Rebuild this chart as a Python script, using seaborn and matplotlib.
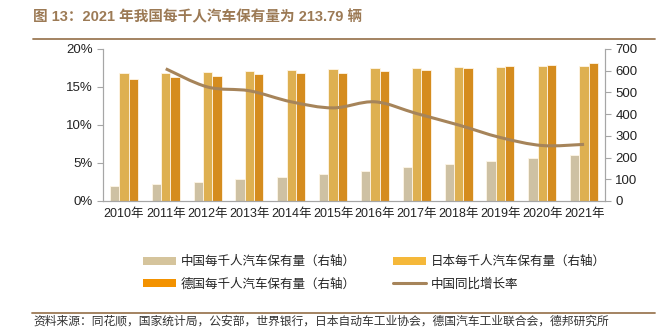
import numpy as np
import pandas as pd
import matplotlib
matplotlib.use("Agg")
import matplotlib.pyplot as plt
from matplotlib.path import Path
from matplotlib.patches import PathPatch, Patch
from matplotlib.lines import Line2D
import matplotlib.ticker as mticker
import seaborn as sns

years = ['2010年', '2011年', '2012年', '2013年', '2014年', '2015年',
         '2016年', '2017年', '2018年', '2019年', '2020年', '2021年']
china = [67.7, 77, 86, 100, 112, 123, 137, 155, 171, 185, 198, 213.79]
japan = [588, 589, 595, 600, 605, 608, 611, 614, 615, 618, 621, 623]
germany = [562, 571, 577, 583, 588, 591, 597, 605, 612, 620, 628, 634]
growth_years = years[1:]
growth = [17.4, 15.0, 14.5, 13.05, 12.25, 13.05, 11.5, 10.0, 8.35, 7.3, 7.45]

s_china = '中国每千人汽车保有量（右轴）'
s_japan = '日本每千人汽车保有量（右轴）'
s_germany = '德国每千人汽车保有量（右轴）'
s_growth = '中国同比增长率'

c_china = '#D5C49C'
c_japan = '#F5B83A'
c_germany = '#F39200'
c_line = '#A6845A'
c_title = '#9C7A55'
c_axis = '#A6A6A6'

sns.set_theme(style='white')
plt.rcParams['font.family'] = ['Liberation Sans', 'Noto Sans CJK SC', 'DejaVu Sans']

df = pd.DataFrame({
    'year': years * 3,
    'value': china + japan + germany,
    'series': [s_china] * 12 + [s_japan] * 12 + [s_germany] * 12,
})

fig = plt.figure(figsize=(6.59, 3.29), dpi=100)
ax = fig.add_axes([103 / 659, 1 - 201 / 329, (605 - 103) / 659, (201 - 49) / 329])
ax2 = ax.twinx()

sns.barplot(data=df, x='year', y='value', hue='series', ax=ax2,
            palette=[c_china, c_japan, c_germany], width=0.67, gap=0,
            edgecolor='#FFF6E6', linewidth=0.6, legend=False)
ax2.set_ylim(0, 700)
ax2.set_yticks(np.arange(0, 701, 100))
ax2.set_xlim(-0.5, 11.5)
ax2.set_ylabel('')
ax2.set_xlabel('')

# smoothed growth line on the left axis
xs = np.array([years.index(y) for y in growth_years], dtype=float)
ys = np.array(growth) / 100.0
pts = np.column_stack([xs, ys])
ext = np.vstack([pts[0], pts, pts[-1]])
verts = [tuple(pts[0])]
codes = [Path.MOVETO]
for i in range(len(pts) - 1):
    p0, p1, p2, p3 = ext[i], ext[i + 1], ext[i + 2], ext[i + 3]
    c1 = p1 + (p2 - p0) / 6.0
    c2 = p2 - (p3 - p1) / 6.0
    verts += [tuple(c1), tuple(c2), tuple(p2)]
    codes += [Path.CURVE4] * 3
ax.add_patch(PathPatch(Path(verts, codes), facecolor='none', edgecolor=c_line,
                       linewidth=2.2, capstyle='butt'))
ax.set_xlim(-0.5, 11.5)
ax.set_ylim(0, 0.20)
ax.set_yticks(np.arange(0, 0.201, 0.05))
ax.yaxis.set_major_formatter(mticker.FuncFormatter(lambda v, p: f'{v*100:.0f}%'))
ax.set_zorder(ax2.get_zorder() + 1)
ax.patch.set_visible(False)

# x ticks: labels at centres, marks at boundaries
ax.set_xticks(range(12))
ax.set_xticklabels(years)
ax.set_xticks(np.arange(-0.5, 12, 1), minor=True)
ax.tick_params(axis='x', which='major', length=0, pad=5, labelsize=9, colors='#222222')
ax.tick_params(axis='x', which='minor', length=4, width=0.8, color=c_axis, direction='out')
ax.tick_params(axis='y', length=4, width=0.8, color=c_axis, labelsize=9.5,
               labelcolor='#222222', direction='out', left=True)
ax2.tick_params(axis='y', length=4, width=0.8, color=c_axis, labelsize=9.5,
                labelcolor='#222222', direction='out', right=True)
ax2.tick_params(axis='x', length=0, labelbottom=False)

for a in (ax, ax2):
    a.grid(False)
    a.spines['top'].set_visible(False)
    for s in ('left', 'right', 'bottom'):
        a.spines[s].set_color(c_axis)
        a.spines[s].set_linewidth(0.8)

# legend (column-major order so rows read china/japan, germany/growth)
h_china = Patch(facecolor=c_china, edgecolor='none')
h_japan = Patch(facecolor=c_japan, edgecolor='none')
h_germany = Patch(facecolor=c_germany, edgecolor='none')
h_growth = Line2D([0], [0], color=c_line, linewidth=2.2)
handles = [h_china, h_germany, h_japan, h_growth]
labels = [s_china, s_germany, s_japan, s_growth]
fig.legend(handles, labels, ncol=2, loc='upper left',
           bbox_to_anchor=(132 / 659, 1 - 244 / 329), frameon=False,
           prop={'family': ['Noto Sans CJK SC'], 'size': 9},
           handlelength=2.6, handleheight=0.6, handletextpad=0.4,
           columnspacing=3.0, labelspacing=0.75, labelcolor='#222222')

# title and rules
fig.text(33 / 659, 1 - 17 / 329, '图 13：2021 年我国每千人汽车保有量为 213.79 辆',
         fontsize=10.5, fontweight='bold', color=c_title, va='center', ha='left',
         family=['Liberation Sans', 'Noto Sans CJK SC'])
fig.add_artist(Line2D([33 / 659, 655 / 659], [1 - 38.5 / 329] * 2, color=c_title, linewidth=1.3))
fig.add_artist(Line2D([32 / 659, 655 / 659], [1 - 312.5 / 329] * 2, color=c_title, linewidth=1.3))
fig.text(33 / 659, 1 - 328 / 329,
         '资料来源：同花顺，国家统计局，公安部，世界银行，日本自动车工业协会，德国汽车工业联合会，德邦研究所',
         fontsize=8.5, color='#333333', va='bottom', ha='left', family=['Noto Sans CJK SC'])

fig.savefig('out.png', dpi=100)
